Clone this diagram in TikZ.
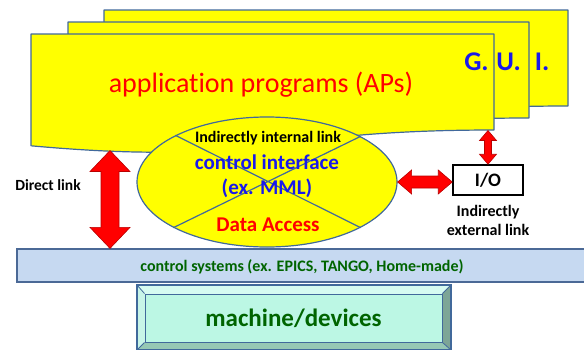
\documentclass[tikz,border=0pt]{standalone}
\usepackage{fontspec}
\setmainfont{Carlito}[Ligatures=NoCommon]
\usetikzlibrary{shapes.geometric,calc}
\definecolor{pageyellow}{RGB}{255,255,0}
\definecolor{steel}{RGB}{65,105,155}
\definecolor{txtblue}{RGB}{25,25,235}
\definecolor{txtred}{RGB}{255,0,0}
\definecolor{txtgreen}{RGB}{0,100,0}
\definecolor{arrred}{RGB}{255,0,0}
\definecolor{arrline}{RGB}{185,0,0}
\definecolor{barfill}{RGB}{198,217,241}
\definecolor{barline}{RGB}{75,105,150}
\definecolor{mfill}{RGB}{188,247,228}
\definecolor{mtop}{RGB}{214,251,241}
\definecolor{mleft}{RGB}{200,245,232}
\definecolor{mright}{RGB}{125,165,150}
\definecolor{mbottom}{RGB}{150,200,180}
\tikzset{
  docpage/.style={fill=pageyellow, draw=steel, line width=1.2pt, line join=round},
  blockarrow/.style={fill=arrred, draw=arrline, line width=0.6pt, line join=miter},
  lbl/.style={inner sep=0pt, font=\bfseries\fontsize{16}{19.5}\selectfont},
  bigblue/.style={inner sep=0pt, text=txtblue, font=\bfseries\fontsize{21}{24}\selectfont},
  guiletter/.style={inner sep=0pt, text=txtblue, font=\bfseries\fontsize{27}{30}\selectfont},
}
\newcommand\vdblarrow[5]{%
  \path[blockarrow] let \p1=(#1), \p2=(#2) in
  (\x1,\y1) -- (\x1+#4,\y1-#5) -- (\x1+#3,\y1-#5) -- (\x1+#3,\y2+#5) -- (\x1+#4,\y2+#5)
  -- (\x1,\y2) -- (\x1-#4,\y2+#5) -- (\x1-#3,\y2+#5) -- (\x1-#3,\y1-#5) -- (\x1-#4,\y1-#5) -- cycle;}
\newcommand\hdblarrow[5]{%
  \path[blockarrow] let \p1=(#1), \p2=(#2) in
  (\x1,\y1) -- (\x1+#5,\y1+#4) -- (\x1+#5,\y1+#3) -- (\x2-#5,\y1+#3) -- (\x2-#5,\y1+#4)
  -- (\x2,\y1) -- (\x2-#5,\y1-#4) -- (\x2-#5,\y1-#3) -- (\x1+#5,\y1-#3) -- (\x1+#5,\y1-#4) -- cycle;}
\begin{document}
\begin{tikzpicture}[x=1pt,y=-1pt]
\useasboundingbox (0,0) rectangle (584,349);
% stacked pages
\path[docpage] (104,10) -- (568,10) -- (568,106) .. controls (336,106) and (336,142.6) .. (104,121.8) -- cycle;
\path[docpage] (68,22) -- (529,22) -- (529,118) .. controls (298.5,118) and (298.5,154.6) .. (68,133.8) -- cycle;
\path[docpage] (31,34) -- (494,34) -- (494,130) .. controls (262.5,130) and (262.5,166.6) .. (31,145.8) -- cycle;
\node[inner sep=0pt, text=txtred, font=\fontsize{28}{30}\selectfont] (apps) at (261,85) {application programs (APs)};
\node[guiletter] (g1) at (476.5,62) {G.};
\node[guiletter] (g2) at (508.5,62) {U.};
\node[guiletter] (g3) at (542,62) {I.};
% control systems bar
\node[draw=barline, fill=barfill, line width=1.2pt, minimum width=583, minimum height=33, inner sep=0pt] (cs) at (308.5,265.5) {};
\node[inner sep=0pt, text=txtgreen, font=\bfseries\fontsize{16}{18}\selectfont] (cst) at (302,267) {control systems (ex. EPICS, TANGO, Home-made)};
% machine/devices bevel box
\fill[mtop] (137,285) -- (451,285) -- (442,294) -- (145,294) -- cycle;
\fill[mleft] (137,285) -- (145,294) -- (145,342) -- (137,350) -- cycle;
\fill[mright] (451,285) -- (451,350) -- (442,342) -- (442,294) -- cycle;
\fill[mbottom] (137,350) -- (451,350) -- (442,342) -- (145,342) -- cycle;
\node[fill=mfill, draw=steel, line width=1pt, minimum width=297, minimum height=48, inner sep=0pt,
      text=txtgreen, font=\bfseries\fontsize{25}{28}\selectfont] (md) at (293.5,318) {machine/devices};
\draw[steel, line width=1.2pt] (137,285) rectangle (451,350);
\draw[steel, line width=0.8pt] (137,285) -- (md.north west) (451,285) -- (md.north east)
  (137,350) -- (md.south west) (451,350) -- (md.south east);
% control interface ellipse
\node[ellipse, fill=pageyellow, draw=steel, line width=1.2pt, minimum width=260, minimum height=130, inner sep=0pt] (ci) at (267,182) {};
\draw[steel, line width=1.2pt] (ci.153.43) -- (ci.-26.57) (ci.26.57) -- (ci.206.57);
\node[lbl] (il) at (268,138) {Indirectly internal link};
\node[bigblue] (cif) at (267,162) {control interface};
\node[bigblue] (mml) at (267,188) {(ex. MML)};
\node[inner sep=0pt, text=txtred, font=\bfseries\fontsize{21}{24}\selectfont] (da) at (268,225) {Data Access};
% direct link
\node[lbl, font=\bfseries\fontsize{15.5}{18}\selectfont] (dl) at (48,185) {Direct link};
\coordinate (dlTop) at (110,150.5);
\coordinate (dlBot) at (cs.north -| dlTop);
\vdblarrow{dlTop}{dlBot}{9pt}{20pt}{21pt}
% I/O
\node[draw=black, fill=white, line width=1.5pt, minimum width=70, minimum height=30, inner sep=0pt,
      font=\bfseries\fontsize{19}{21}\selectfont] (io) at (488,180) {I/O};
\node[lbl, align=center] (iel) at (488,220.5) {Indirectly\\external link};
\coordinate (ioTop) at (488,130.5);
\vdblarrow{ioTop}{io.north}{3.5pt}{8.5pt}{10pt}
\hdblarrow{ci.east}{io.west}{6pt}{12pt}{14pt}
\end{tikzpicture}
\end{document}
